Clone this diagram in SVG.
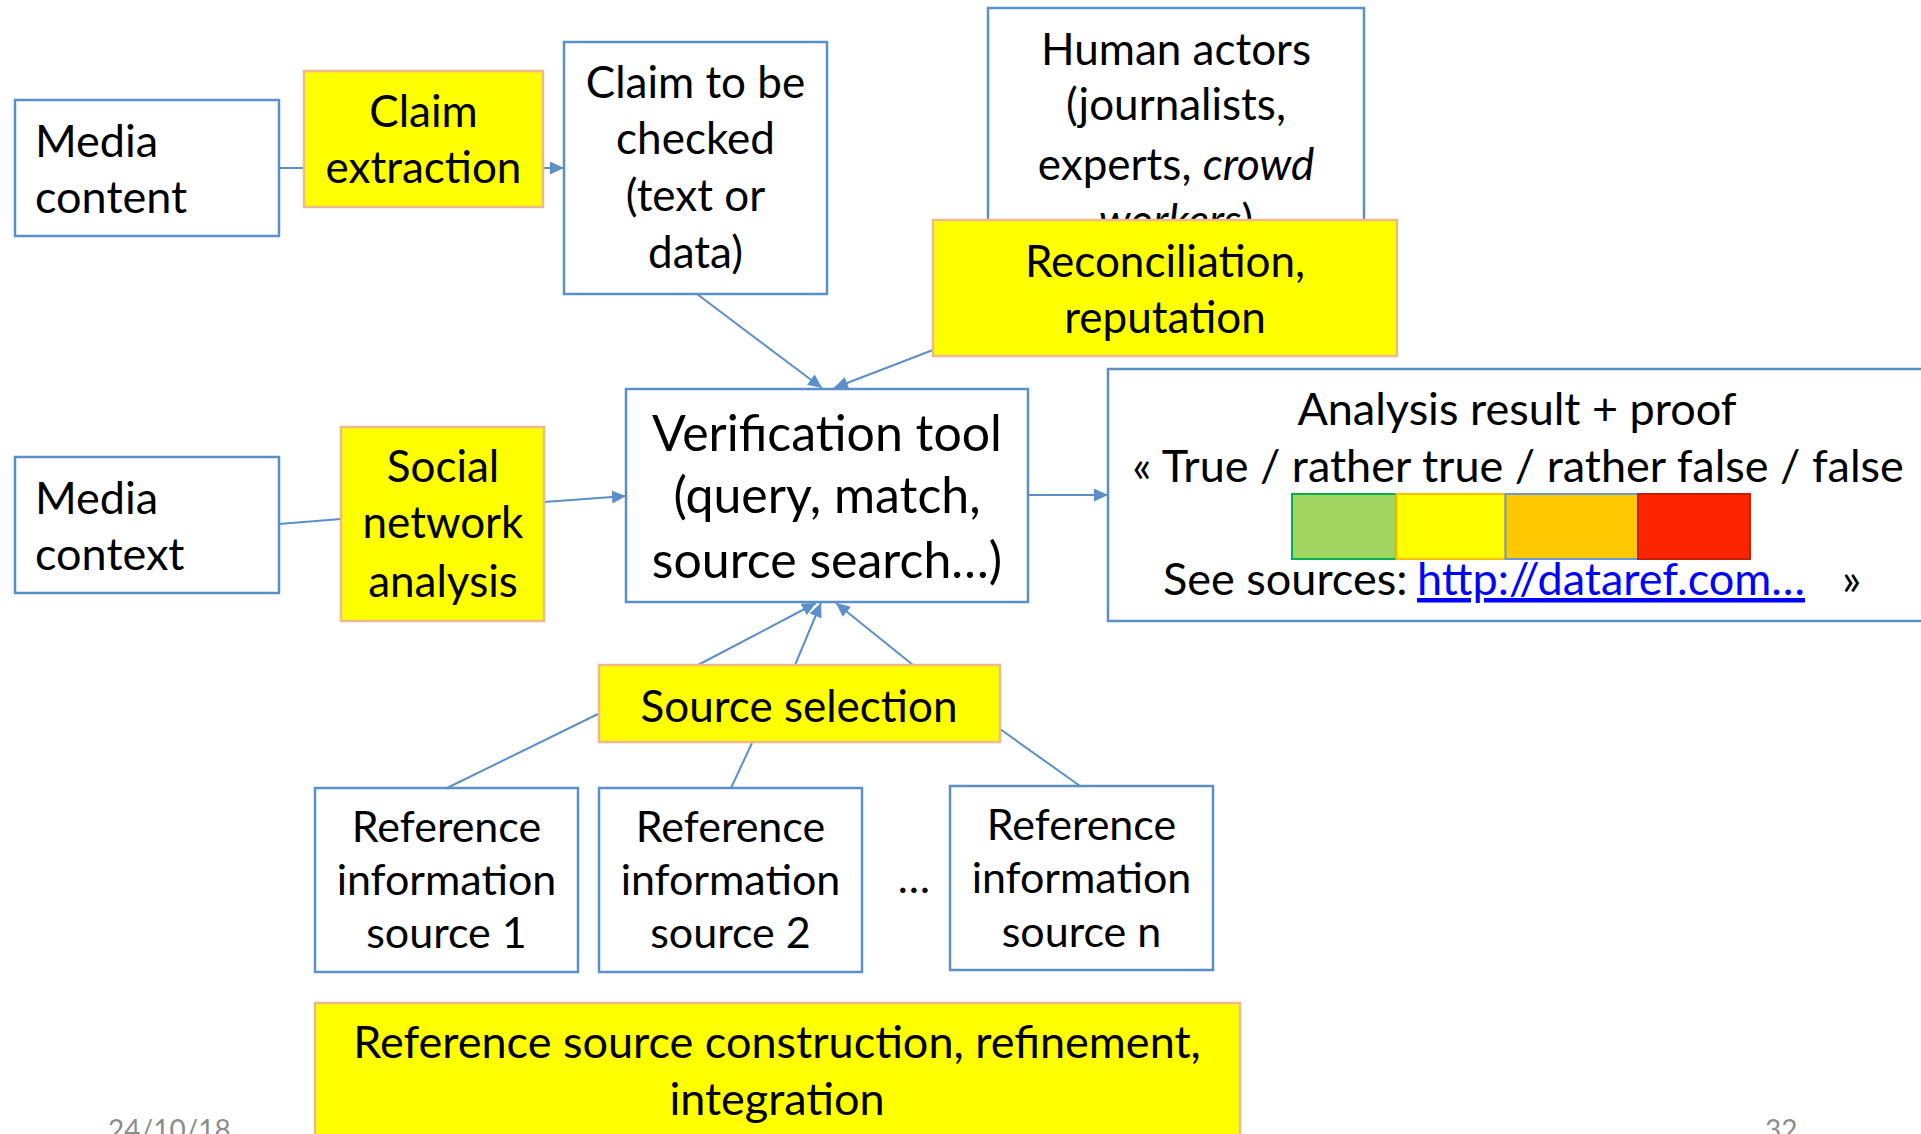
<svg xmlns="http://www.w3.org/2000/svg" width="1921" height="1134" viewBox="0 0 1921 1134">
<defs>
<style>
.box{fill:#fff;stroke:#5B8FC8;stroke-width:2.5}
.ybox{fill:#FFFF00;stroke:#EFB98A;stroke-width:2.5}
.t{font-family:Lato,"Open Sans","Liberation Sans",sans-serif;font-size:44px;fill:#000}
.c{text-anchor:middle}
.big{font-size:50px}
.mid{font-size:45px}
.m{font-size:45px}
.r{font-size:43px}
.foot{font-family:Lato,"Liberation Sans",sans-serif;font-size:28px;fill:#8C8C8C}
.con{stroke:#5B8FC8;stroke-width:2;fill:none}
.arr{marker-end:url(#ah)}
</style>
<marker id="ah" markerUnits="userSpaceOnUse" markerWidth="14" markerHeight="13" refX="14" refY="6.5" orient="auto">
<path d="M0,0 L14,6.5 L0,13 z" fill="#5B8FC8"/>
</marker>
<clipPath id="humanclip"><rect x="988" y="0" width="376" height="220"/></clipPath>
</defs>

<g id="connectors">
<line class="con" x1="279" y1="168" x2="304" y2="168"/>
<line class="con arr" x1="543" y1="168" x2="564" y2="168"/>
<line class="con arr" x1="697" y1="294" x2="822" y2="388"/>
<line class="con arr" x1="933" y1="350" x2="834" y2="388"/>
<line class="con" x1="279" y1="524" x2="341" y2="519"/>
<line class="con arr" x1="544" y1="502" x2="626" y2="496"/>
<line class="con arr" x1="1028" y1="495" x2="1108" y2="495"/>
<line class="con arr" x1="698" y1="665" x2="816" y2="603"/>
<line class="con arr" x1="795" y1="665" x2="821" y2="603"/>
<line class="con arr" x1="913" y1="665" x2="836" y2="603"/>
<line class="con" x1="598" y1="714" x2="447" y2="788"/>
<line class="con" x1="752" y1="743" x2="731" y2="788"/>
<line class="con" x1="1000" y1="729" x2="1080" y2="786"/>
</g>

<g id="media-content">
<rect class="box" x="15" y="100" width="264" height="136"/>
<text class="t m" x="35" y="157">Media</text>
<text class="t m" x="35" y="213">content</text>
</g>

<g id="claim-extraction">
<rect class="ybox" x="304" y="71" width="239" height="136"/>
<text class="t c" x="423.5" y="127">Claim</text>
<text class="t c" x="423.5" y="183">extraction</text>
</g>

<g id="claim-to-be-checked">
<rect class="box" x="564" y="42" width="263" height="252"/>
<text class="t c" x="695.5" y="98">Claim to be</text>
<text class="t c" x="695.5" y="154">checked</text>
<text class="t c" x="695.5" y="211">(text or</text>
<text class="t c" x="695.5" y="268">data)</text>
</g>

<g id="human-actors">
<rect class="box" x="988" y="8" width="376" height="290"/>
<text class="t c" x="1176" y="65">Human actors</text>
<text class="t c" x="1176" y="120">(journalists,</text>
<text class="t c" x="1176" y="180">experts, <tspan font-style="italic">crowd</tspan></text>
<text class="t c" x="1176" y="236" clip-path="url(#humanclip)"><tspan font-style="italic">workers</tspan>)</text>
</g>

<g id="reconciliation">
<rect class="ybox" x="933" y="220" width="464" height="136"/>
<text class="t c" x="1165" y="277">Reconciliation,</text>
<text class="t c" x="1165" y="333">reputation</text>
</g>

<g id="verification-tool">
<rect class="box" x="626" y="389" width="402" height="213"/>
<text class="t c big" x="827" y="451">Verification tool</text>
<text class="t c big" x="827" y="513">(query, match,</text>
<text class="t c big" x="827" y="578">source search…)</text>
</g>

<g id="media-context">
<rect class="box" x="15" y="457" width="264" height="136"/>
<text class="t m" x="35" y="514">Media</text>
<text class="t m" x="35" y="570">context</text>
</g>

<g id="social-network-analysis">
<rect class="ybox" x="341" y="427" width="203" height="194"/>
<text class="t c" x="443" y="482">Social</text>
<text class="t c" x="443" y="538">network</text>
<text class="t c" x="443" y="597">analysis</text>
</g>

<g id="analysis-result">
<rect class="box" x="1108" y="369" width="900" height="252"/>
<text class="t c mid" x="1517" y="425">Analysis result + proof</text>
<text class="t c mid" x="1518" y="482">« True / rather true / rather false / false</text>
<rect x="1292" y="494" width="104.5" height="65" fill="#A2D462" stroke="#00B050" stroke-width="2"/>
<rect x="1396.5" y="494" width="109" height="65" fill="#FFFF00" stroke="#FFC000" stroke-width="2"/>
<rect x="1505.5" y="494" width="132.5" height="65" fill="#FFC800" stroke="#6A9BD0" stroke-width="2"/>
<rect x="1638" y="494" width="112" height="65" fill="#FF2400" stroke="#C42000" stroke-width="2"/>
<text class="t mid" x="1163" y="595">See sources: <tspan x="1417" fill="#0000FF" text-decoration="underline">http://dataref.com…</tspan><tspan x="1842">»</tspan></text>
</g>

<g id="source-selection">
<rect class="ybox" x="599" y="665" width="401" height="77"/>
<text class="t c" x="799" y="722">Source selection</text>
</g>

<g id="reference-source-1">
<rect class="box" x="315" y="788" width="263" height="184"/>
<text class="t c r" x="446.5" y="842">Reference</text>
<text class="t c r" x="446.5" y="895">information</text>
<text class="t c r" x="446.5" y="948">source 1</text>
</g>

<g id="reference-source-2">
<rect class="box" x="599" y="788" width="263" height="184"/>
<text class="t c r" x="730.5" y="842">Reference</text>
<text class="t c r" x="730.5" y="895">information</text>
<text class="t c r" x="730.5" y="948">source 2</text>
</g>

<text class="t c r" x="914" y="893">…</text>

<g id="reference-source-n">
<rect class="box" x="950" y="786" width="263" height="184"/>
<text class="t c r" x="1081.5" y="840">Reference</text>
<text class="t c r" x="1081.5" y="893">information</text>
<text class="t c r" x="1081.5" y="947">source n</text>
</g>

<g id="reference-construction">
<rect class="ybox" x="315" y="1003" width="925" height="160"/>
<text class="t c m" x="777" y="1058">Reference source construction, refinement,</text>
<text class="t c m" x="777" y="1115">integration</text>
</g>

<text class="foot" x="108" y="1140">24/10/18</text>
<text class="foot" x="1765" y="1140">32</text>
</svg>
